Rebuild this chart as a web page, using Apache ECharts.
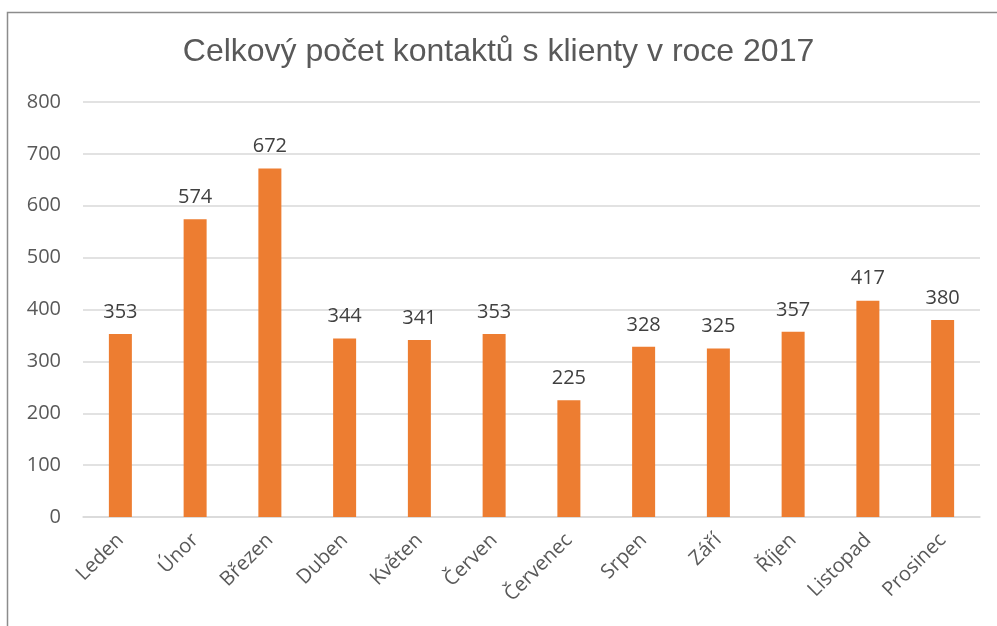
<!DOCTYPE html>
<html>
<head>
<meta charset="utf-8">
<script src="https://cdn.jsdelivr.net/npm/echarts@6/dist/echarts.min.js"></script>
<style>
  html, body { margin: 0; padding: 0; background: #fff; }
  #main { width: 997px; height: 626px; }
</style>
</head>
<body>
<div id="main"></div>
<script>
// měsíce a počty kontaktů
const months = ['Leden', 'Únor', 'Březen', 'Duben', 'Květen', 'Červen',
  'Červenec', 'Srpen', 'Září', 'Říjen', 'Listopad', 'Prosinec'];
const contacts = [353, 574, 672, 344, 341, 353, 225, 328, 325, 357, 417, 380];
const yTicks = [0, 100, 200, 300, 400, 500, 600, 700, 800];

let chart = echarts.init(document.getElementById('main'));

let option = {
  backgroundColor: '#fff',
  animation: false,
  title: {
    text: 'Celkový počet kontaktů s klienty v roce 2017',
    left: 'center',
    top: 31,
    textStyle: {
      color: '#595959',
      fontFamily: 'Liberation Sans, Arial',
      fontSize: 32,
      fontWeight: 'normal'
    }
  },
  graphic: [{
    type: 'rect',
    shape: { x: 7.5, y: 12.5, width: 1000, height: 700 },
    style: { fill: 'none', stroke: '#8c8c8c', lineWidth: 1.5 },
    silent: true
  }],
  grid: {
    left: 83,
    right: 17,
    top: 102,
    bottom: 109,
    containLabel: false
  },
  xAxis: {
    type: 'category',
    data: months,
    axisLine: { lineStyle: { color: '#d9d9d9', width: 1.5 } },
    axisTick: { show: false },
    axisLabel: {
      rotate: 45,
      interval: 0,
      margin: 20,
      color: '#595959',
      fontFamily: 'Open Sans',
      fontSize: 20
    }
  },
  yAxis: {
    type: 'value',
    min: yTicks[0],
    max: yTicks[yTicks.length - 1],
    interval: 100,
    axisLine: { show: false },
    axisTick: { show: false },
    splitLine: { lineStyle: { color: '#d9d9d9', width: 1.5 } },
    axisLabel: {
      margin: 22,
      color: '#595959',
      fontFamily: 'Open Sans',
      fontSize: 20
    }
  },
  series: [{
    type: 'bar',
    data: contacts,
    barWidth: 23,
    itemStyle: { color: '#ed7d31' },
    label: {
      show: true,
      position: 'top',
      distance: 12,
      color: '#404040',
      fontFamily: 'Open Sans',
      fontSize: 20
    }
  }]
};

chart.setOption(option);
</script>
</body>
</html>
